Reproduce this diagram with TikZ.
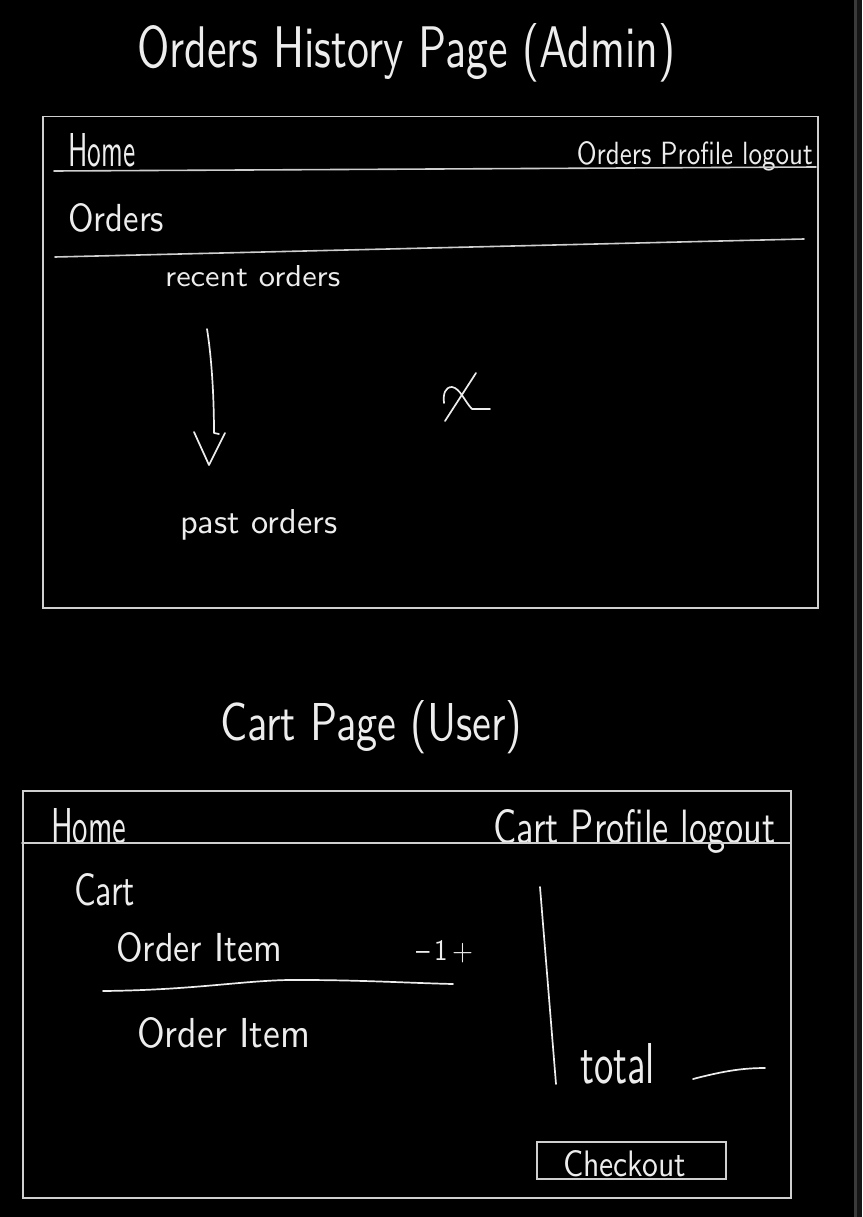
\documentclass[tikz,border=0pt]{standalone}
\usepackage{graphicx}
\definecolor{inkc}{HTML}{EDEDED}
\definecolor{framec}{HTML}{CFCFCF}
\definecolor{stripc}{HTML}{151515}
\definecolor{edgec}{HTML}{3A3A3A}
% text squeezed into a given width and height (pt)
\newcommand{\hw}[3]{\resizebox{#1pt}{#2pt}{#3}}
\begin{document}
\begin{tikzpicture}[x=1pt,y=-1pt,
  ink/.style={draw=inkc, line width=1.7pt, line cap=round, line join=round},
  frame/.style={draw=framec, line width=1.5pt, inner sep=0pt, anchor=north west},
  rule/.style={draw=framec, line width=1.6pt, line cap=round},
  txt/.style={text=inkc, inner sep=0pt, font=\sffamily},
]
% canvas
\fill[black] (0,0) rectangle (862,1217);
\useasboundingbox (0,0) rectangle (862,1217);
\fill[stripc] (854,0) rectangle (862,1217);
\draw[edgec, line width=2.5pt] (855.5,0) -- (855.5,1217);

% ---------- Orders history page (admin) ----------
\node[txt, anchor=base west] (title1) at (137,68) {\hw{538}{44}{Orders History Page (Admin)}};
\node[frame, minimum width=775pt, minimum height=491pt] (admin) at (42,116) {};

\node[txt, anchor=base west] (ahome) at (68,167) {\hw{67}{33}{Home}};
\node[txt, anchor=base east] (anav) at (813,165) {\hw{236}{23}{Orders Profile logout}};
\coordinate (anavL) at (54,171);
\coordinate (anavR) at (816,167);
\draw[rule] (anavL) -- (anavR);

\node[txt, anchor=base west] (aorders) at (68,232) {\hw{96}{28}{Orders}};
\coordinate (asepL) at (55,257);
\coordinate (asepR) at (804,239);
\draw[rule] (asepL) -- (asepR);

\node[txt, anchor=base west] (recent) at (165,286) {\hw{175}{21}{recent orders}};
\node[txt, anchor=base west] (past) at (180,533) {\hw{157}{24}{past orders}};

% scroll direction arrow
\coordinate (arTop) at (207,329);
\coordinate (arEnd) at (214,433);
\coordinate (arL) at (194,432);
\coordinate (arTip) at (209,465);
\coordinate (arR) at (225,433);
\draw[ink] (arTop) .. controls (212,360) and (214,400) .. (arEnd) -- (219,434);
\draw[ink] (arL) -- (arTip) -- (arR);

% crossed mark
\draw[ink] (476,373) -- (445,421);
\draw[ink] (444,403) .. controls (443,394) and (445,387) .. (452,387)
  .. controls (460,388) and (465,402) .. (472,409) -- (490,409);

% ---------- Cart page (user) ----------
\node[txt, anchor=base west] (title2) at (220,740) {\hw{302}{40}{Cart Page (User)}};
\node[frame, minimum width=768pt, minimum height=407pt] (cart) at (22,790) {};

\node[txt, anchor=base west] (chome) at (51,843) {\hw{75}{35}{Home}};
\node[txt, anchor=base east] (cnav) at (776,843) {\hw{282}{34}{Cart Profile logout}};
\coordinate (cnavL) at (22,843);
\coordinate (cnavR) at (790,843);
\draw[rule] (cnavL) -- (cnavR);

\node[txt, anchor=base west] (ccart) at (74,905) {\hw{61}{32}{Cart}};
\node[txt, anchor=base west] (item1) at (116,961) {\hw{166}{29}{Order Item}};
\node[txt, anchor=base west] (qty) at (416,960) {\hw{57}{20}{\textendash\,1\,+}};
\coordinate (isepL) at (103,991);
\coordinate (isepR) at (453,984);
\draw[ink] (isepL) .. controls (200,990) and (250,979) .. (302,980)
  .. controls (360,980) and (410,983) .. (isepR);
\node[txt, anchor=base west] (item2) at (137,1047) {\hw{173}{30}{Order Item}};

% summary column
\coordinate (colTop) at (540,887);
\coordinate (colBot) at (556,1084);
\draw[ink] (colTop) -- (colBot);
\node[txt, anchor=base west] (total) at (580,1083) {\hw{75}{40}{total}};
\coordinate (totL) at (693,1079);
\coordinate (totR) at (765,1068);
\draw[ink] (totL) .. controls (720,1072) and (740,1068) .. (totR);

\node[frame, minimum width=189pt, minimum height=37pt] (checkout) at (536,1141) {};
\node[txt, anchor=base west] (checkoutlbl) at (563,1176) {\hw{123}{26}{Checkout}};
\end{tikzpicture}
\end{document}
